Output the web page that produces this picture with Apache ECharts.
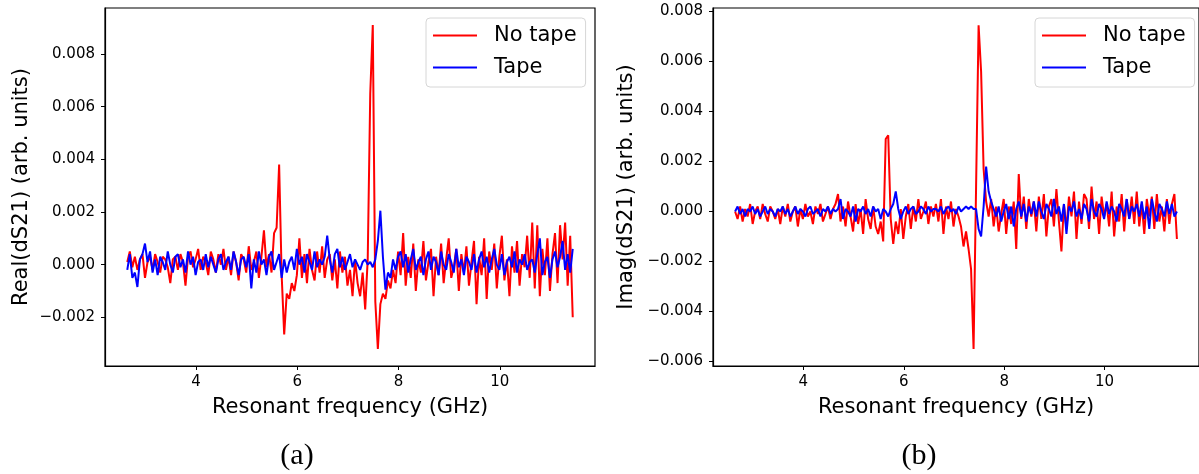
<!DOCTYPE html>
<html>
<head>
<meta charset="utf-8">
<script src="https://cdn.jsdelivr.net/npm/echarts@6/dist/echarts.min.js"></script>
<style>
html,body{margin:0;padding:0;background:#fff;}
#chart{width:1199px;height:474px;}
</style>
</head>
<body>
<div id="chart"></div>
<script>
// Frequency sweep (GHz)
const FREQ = [
2.64,2.69,2.74,2.79,2.84,2.89,2.94,2.99,3.04,3.09,3.14,3.19,3.24,3.29,3.34,3.39,3.44,3.49,3.54,3.59,
3.64,3.69,3.74,3.79,3.84,3.89,3.94,3.99,4.04,4.09,4.14,4.19,4.24,4.29,4.34,4.39,4.44,4.49,4.54,4.59,
4.64,4.69,4.74,4.79,4.84,4.89,4.94,4.99,5.04,5.09,5.14,5.19,5.24,5.29,5.34,5.39,5.44,5.49,5.54,5.59,
5.64,5.69,5.74,5.79,5.84,5.89,5.94,5.99,6.04,6.09,6.14,6.19,6.24,6.29,6.34,6.39,6.44,6.49,6.54,6.59,
6.64,6.69,6.74,6.79,6.84,6.89,6.94,6.99,7.04,7.09,7.14,7.19,7.24,7.29,7.34,7.39,7.44,7.49,7.54,7.59,
7.64,7.69,7.74,7.79,7.84,7.89,7.94,7.99,8.04,8.09,8.14,8.19,8.24,8.29,8.34,8.39,8.44,8.49,8.54,8.59,
8.64,8.69,8.74,8.79,8.84,8.89,8.94,8.99,9.04,9.09,9.14,9.19,9.24,9.29,9.34,9.39,9.44,9.49,9.54,9.59,
9.64,9.69,9.74,9.79,9.84,9.89,9.94,9.99,10.04,10.09,10.14,10.19,10.24,10.29,10.34,10.39,10.44,10.49,10.54,10.59,
10.64,10.69,10.74,10.79,10.84,10.89,10.94,10.99,11.04,11.09,11.14,11.19,11.24,11.29,11.34,11.39,11.44
];

// Real(dS21), units of 1e-3
const REAL_NO_TAPE = [
0.1,0.5,-0.1,0.3,-0.2,0.2,0.4,-0.5,0.1,0.3,-0.2,0.4,0.1,-0.3,0.3,0.2,-0.1,-0.7,0.2,0.3,
-0.2,0.4,0.1,-0.8,0.3,0.5,-0.1,0.2,0.6,-0.2,0.3,0.1,-0.4,0.5,0.2,-0.3,0.4,0.0,0.6,-0.2,
0.3,-0.4,0.5,0.1,-0.6,0.4,0.2,-0.3,0.7,-0.2,0.1,0.5,-0.5,0.3,1.3,-0.1,0.4,-0.3,1.2,1.4,
3.8,-0.4,-2.65,-1.1,-1.3,-0.7,-1.0,-0.4,1.0,-0.5,0.4,-0.7,0.6,-0.2,-0.6,0.5,-0.3,0.7,-0.5,0.2,
0.4,-0.6,0.2,-0.9,0.5,-0.3,0.3,-0.8,-0.2,-1.2,0.2,-0.7,-1.2,-0.3,-1.7,0.2,6.5,9.1,-1.4,-3.2,
-1.5,-1.1,-1.3,-0.6,-0.9,-0.2,-0.7,0.5,-0.4,1.2,-0.8,0.3,-0.5,0.8,-1.0,0.2,-0.3,0.9,-0.6,0.1,
0.6,-1.2,0.3,-0.4,0.8,-0.7,0.2,1.0,-0.5,-0.1,0.6,-1.0,0.4,-0.3,0.7,-0.8,0.1,0.9,-1.5,0.3,
-0.4,1.0,-1.3,0.5,-0.2,0.8,-0.9,0.3,1.1,-0.6,0.2,-1.2,0.7,-0.3,0.9,-0.8,0.4,-0.1,1.1,-0.5,
1.6,-0.9,1.5,-1.2,0.6,-0.4,1.0,-1.0,0.4,1.2,-0.7,1.5,0.2,1.6,-0.8,1.1,-2.0
];
const REAL_TAPE = [
-0.2,0.4,-0.5,-0.3,-0.85,0.2,0.4,0.8,0.1,0.5,-0.3,0.2,-0.4,0.3,0.1,-0.2,0.5,0.0,-0.3,0.3,
0.4,-0.1,0.2,-0.3,0.5,0.0,0.3,-0.4,0.1,0.2,-0.2,0.4,-0.1,0.3,0.0,-0.3,0.2,0.4,-0.2,0.1,
0.3,-0.2,0.5,0.1,-0.4,0.2,0.3,-0.1,0.4,-0.9,0.2,-0.3,0.5,0.0,0.2,-0.4,0.3,0.5,-0.2,0.1,
0.4,-0.5,0.2,-0.3,0.1,0.3,-0.2,0.6,0.0,0.3,-0.3,0.4,0.1,-0.2,0.5,-0.1,0.2,0.0,0.3,1.1,
0.2,-0.3,0.4,0.6,-0.1,0.3,-0.2,0.1,0.4,-0.1,0.2,0.0,-0.2,0.1,0.2,0.0,0.1,-0.1,0.2,0.9,
2.05,0.3,-0.95,-0.3,-0.5,0.2,-0.2,0.3,0.5,-0.1,0.4,-0.3,0.2,0.6,-0.2,0.1,0.3,-0.4,0.2,0.5,
-0.2,0.3,0.1,-0.4,0.5,0.0,-0.2,0.4,0.1,-0.3,0.6,-0.1,0.2,-0.4,0.3,0.1,-0.2,0.4,-0.3,0.2,
0.5,-0.1,0.3,-0.3,0.2,0.6,0.0,-0.2,0.4,-0.4,0.1,0.3,-0.1,0.5,-0.3,0.2,0.0,0.4,-0.2,0.1,
0.2,-0.3,0.4,1.0,-0.4,0.1,0.3,-0.5,0.2,0.5,-0.1,0.3,0.9,-0.2,0.4,-0.3,0.6
];

// Imag(dS21), units of 1e-3
const IMAG_NO_TAPE = [
0.0,-0.3,0.2,-0.4,0.1,-0.2,0.3,-0.5,0.0,0.2,-0.3,0.3,-0.1,-0.4,0.2,0.0,-0.3,0.1,-0.5,0.2,
-0.2,0.3,-0.4,0.0,0.2,-0.6,0.1,-0.3,0.3,-0.2,0.0,-0.5,0.2,-0.1,0.3,-0.4,-0.1,0.2,-0.3,0.1,
0.3,0.7,-0.4,0.2,-0.6,0.4,-0.2,-0.8,0.3,-0.5,0.1,-0.9,0.5,-0.3,-0.7,0.2,-0.6,-0.9,-0.4,-1.2,
2.9,3.05,-0.3,-1.3,-0.4,-0.9,0.1,-1.1,-0.2,0.3,-0.7,0.2,-0.4,0.5,-0.3,0.0,0.4,-0.5,0.2,-0.2,
0.3,-0.4,0.5,-0.9,0.2,-0.3,0.4,-0.6,0.1,-0.2,-0.6,-1.4,-0.8,-1.5,-2.3,-5.5,1.0,7.45,5.6,1.7,
0.4,-0.2,0.5,-0.6,0.2,-0.8,-0.1,0.5,-0.9,0.2,-0.5,0.4,-1.5,1.5,-0.3,0.6,-0.7,0.5,-0.2,0.4,
-0.8,0.6,-0.3,0.7,-1.0,0.2,0.5,-0.6,0.9,-0.4,-1.6,0.3,-0.7,0.6,-0.2,0.8,-1.1,0.4,-0.5,0.7,
0.5,-0.7,1.0,-0.3,0.4,-0.9,0.6,-0.2,0.3,-0.6,0.8,-1.0,0.2,-0.4,0.7,-0.8,0.5,-0.3,0.6,-0.5,
0.8,-0.6,0.3,-0.9,0.5,-0.2,0.6,-0.7,0.7,-0.4,0.2,-0.8,0.5,-0.5,0.3,0.7,-1.1
];
const IMAG_TAPE = [
0.0,0.2,-0.1,0.1,-0.2,0.1,0.0,0.2,-0.1,0.1,-0.2,0.0,0.2,-0.1,0.1,0.0,-0.2,0.1,0.0,0.2,
-0.1,0.1,-0.2,0.0,0.2,-0.1,0.1,0.0,-0.2,0.1,0.2,-0.1,0.0,0.1,-0.2,0.1,0.0,0.2,-0.1,0.1,
0.0,0.1,0.5,-0.3,0.1,0.0,-0.2,0.2,-0.4,0.1,0.0,0.2,-0.1,0.1,-0.2,0.2,0.0,0.1,-0.3,0.1,
0.0,-0.2,0.1,0.3,0.8,0.1,-0.3,0.0,0.2,-0.1,0.1,0.2,-0.1,0.0,0.2,0.1,-0.1,0.2,0.0,0.1,
0.1,0.0,0.2,-0.1,0.1,0.2,0.0,0.1,-0.1,0.2,0.0,0.1,0.2,0.1,0.2,0.1,0.1,-0.7,-1.0,0.2,
1.8,0.8,0.4,0.1,-0.2,0.2,-0.4,0.0,0.3,-0.3,0.2,-0.6,0.1,0.4,-0.2,0.3,-0.4,0.2,-0.1,0.4,
-0.2,0.4,0.0,-0.3,0.3,0.1,-0.2,0.5,-0.1,0.2,-0.4,0.3,-0.9,0.2,0.0,0.4,-0.2,0.1,-0.3,0.3,
0.1,-0.4,0.5,0.0,-0.2,0.3,0.1,-0.3,0.4,-0.1,0.2,0.0,-0.4,0.3,0.1,-0.2,0.5,-0.3,0.2,0.0,
0.3,-0.2,0.4,-0.3,0.2,-0.7,0.5,0.0,-0.4,0.3,0.1,-0.2,0.4,-0.1,0.3,-0.2,0.0
];

// Tick labels
const X_TICKS = [4, 6, 8, 10];
const Y_TICKS_REAL = [-2, 0, 2, 4, 6, 8];
const Y_TICKS_IMAG = [-6, -4, -2, 0, 2, 4, 6, 8];
const SERIES_NAMES = ['No tape', 'Tape'];
const CAPTIONS = ['(a)', '(b)'];
const Y_NAMES = ['Real(dS21) (arb. units)', 'Imag(dS21) (arb. units)'];
const X_NAME = 'Resonant frequency (GHz)';

const FONT = 'DejaVu Sans';
function zip(xs, ys) { return xs.map((x, i) => [x, ys[i]]); }
function fmtY(v) {
  const s = (v / 1000).toFixed(3);
  return s.replace('-', '\u2212');
}

function xAxis(gi) {
  return {
    type: 'value', gridIndex: gi, min: 2.2, max: 11.88,
    name: X_NAME, nameLocation: 'middle', nameGap: 31,
    nameTextStyle: { fontSize: 21, color: '#000', fontFamily: FONT },
    axisLine: { show: true, onZero: false, lineStyle: { color: '#000', width: 1.2 } },
    axisTick: { show: true, inside: false, length: 4, customValues: X_TICKS, lineStyle: { color: '#000', width: 1 } },
    axisLabel: { customValues: X_TICKS, fontSize: 15, color: '#000', fontFamily: FONT, margin: 9, formatter: v => String(v) },
    splitLine: { show: false }
  };
}
function yAxis(gi, min, max, ticks, name, gap) {
  return {
    type: 'value', gridIndex: gi, min: min, max: max,
    name: name, nameLocation: 'middle', nameGap: gap, nameRotate: 90,
    nameTextStyle: { fontSize: 21, color: '#000', fontFamily: FONT },
    axisLine: { show: true, onZero: false, lineStyle: { color: '#000', width: 1.2 } },
    axisTick: { show: true, inside: false, length: 4, customValues: ticks, lineStyle: { color: '#000', width: 1 } },
    axisLabel: { customValues: ticks, fontSize: 15, color: '#000', fontFamily: FONT, margin: 10, formatter: fmtY },
    splitLine: { show: false }
  };
}
function legend(left) {
  return {
    data: SERIES_NAMES, left: left, top: 18, orient: 'vertical',
    icon: 'rect', itemWidth: 44, itemHeight: 2, itemGap: 11,
    textStyle: { fontSize: 21, color: '#000', fontFamily: FONT, padding: [0, 0, 0, 12] },
    padding: [7, 9, 9, 7],
    borderColor: '#d6d6d6', borderWidth: 1, borderRadius: 4,
    backgroundColor: 'rgba(255,255,255,0.85)',
    selectedMode: false
  };
}
function line(name, color, gi, ys) {
  return {
    type: 'line', name: name, xAxisIndex: gi, yAxisIndex: gi,
    data: zip(FREQ, ys), showSymbol: false, symbol: 'none',
    lineStyle: { color: color, width: 2 }, itemStyle: { color: color },
    animation: false, clip: true
  };
}

const chart = echarts.init(document.getElementById('chart'), null, { renderer: 'canvas' });
chart.setOption({
  backgroundColor: '#fff',
  animation: false,
  grid: [
    { left: 105, top: 8, width: 490, height: 358, show: true, borderColor: '#000', borderWidth: 1.2, backgroundColor: 'transparent' },
    { left: 713, top: 8, width: 494, height: 358, show: true, borderColor: '#000', borderWidth: 1.2, backgroundColor: 'transparent' }
  ],
  xAxis: [xAxis(0), xAxis(1)],
  yAxis: [
    yAxis(0, -3.85, 9.75, Y_TICKS_REAL, Y_NAMES[0], 73),
    yAxis(1, -6.18, 8.14, Y_TICKS_IMAG, Y_NAMES[1], 76)
  ],
  legend: [legend(426), legend(1035)],
  series: [
    line(SERIES_NAMES[0], '#ff0000', 0, REAL_NO_TAPE),
    line(SERIES_NAMES[1], '#0000ff', 0, REAL_TAPE),
    line(SERIES_NAMES[0], '#ff0000', 1, IMAG_NO_TAPE),
    line(SERIES_NAMES[1], '#0000ff', 1, IMAG_TAPE)
  ],
  graphic: [
    { type: 'text', x: 297, y: 456, style: { text: CAPTIONS[0], font: '30px "Liberation Serif"', fill: '#000', textAlign: 'center', textVerticalAlign: 'middle' } },
    { type: 'text', x: 919, y: 456, style: { text: CAPTIONS[1], font: '30px "Liberation Serif"', fill: '#000', textAlign: 'center', textVerticalAlign: 'middle' } }
  ]
});
</script>
</body>
</html>
